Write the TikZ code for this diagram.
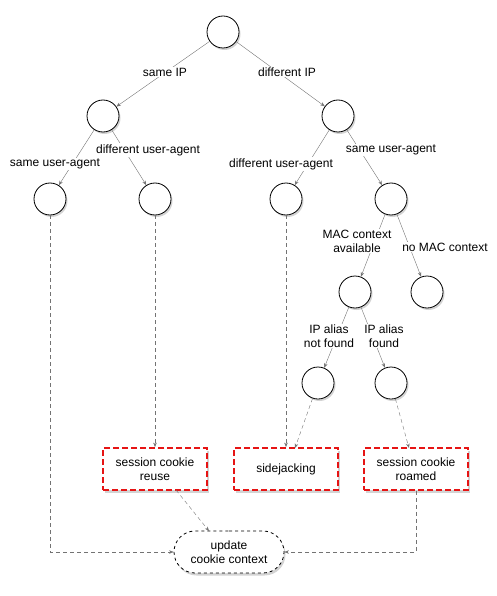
\documentclass[tikz,border=0pt]{standalone}
\usepackage{fontspec}
\setmainfont{Liberation Sans}
\usetikzlibrary{shadows,arrows.meta,shapes.misc}
\begin{document}
\begin{tikzpicture}[x=1pt,y=-1pt,
  every node/.style={font=\fontsize{12}{14}\selectfont},
  st/.style={circle,draw=black,thick,fill=white,minimum size=32pt,inner sep=0pt,
    drop shadow={shadow xshift=1.5pt,shadow yshift=-2pt,opacity=0.35}},
  res/.style={rectangle,draw={rgb,255:red,230;green,20;blue,20},line width=1.8pt,
    dash pattern=on 6pt off 3pt,fill=white,minimum width=104pt,minimum height=42pt,
    align=center,inner sep=2pt,
    drop shadow={shadow xshift=1.5pt,shadow yshift=-2.5pt,opacity=0.35}},
  upd/.style={rounded rectangle,draw=black,thick,dashed,fill=white,minimum width=114pt,
    minimum height=42pt,align=center,inner sep=2pt,
    drop shadow={shadow xshift=1.5pt,shadow yshift=-2.5pt,opacity=0.35}},
  lbl/.style={fill=white,inner sep=1pt,align=center},
  edge/.style={draw=black!55,-{Stealth[length=4.5pt,width=3.5pt]}},
  dedge/.style={draw=black!55,dash pattern=on 4pt off 3pt,-{Stealth[length=4.5pt,width=3.5pt]}}
]
\useasboundingbox (0,0) rectangle (497,596);

\node[st] (r) at (223,32) {};
\node[st] (a) at (103,116) {};
\node[st] (b) at (338,116) {};
\node[st] (a1) at (50,199) {};
\node[st] (a2) at (155,199) {};
\node[st] (b1) at (286,199) {};
\node[st] (b2) at (391,199) {};
\node[st] (c1) at (355,292) {};
\node[st] (c2) at (427,292) {};
\node[st] (d1) at (318,383) {};
\node[st] (d2) at (391,383) {};

\node[res] (reuse) at (155,469) {session cookie\\reuse};
\node[res] (side) at (286,469) {sidejacking};
\node[res] (roam) at (416,469) {session cookie\\roamed};
\node[upd] (upd) at (229,552) {update\\cookie context};

\draw[edge] (r) -- (a);
\draw[edge] (r) -- (b);
\draw[edge] (a) -- (a1);
\draw[edge] (a) -- (a2);
\draw[edge] (b) -- (b1);
\draw[edge] (b) -- (b2);
\draw[edge] (b2) -- (c1);
\draw[edge] (b2) -- (c2);
\draw[edge] (c1) -- (d1);
\draw[edge] (c1) -- (d2);

\node[lbl] at (165,72) {same IP};
\node[lbl] at (287,72) {different IP};
\node[lbl] at (148,150) {different user-agent};
\node[lbl] at (55,164) {same user-agent};
\node[lbl] at (281,164) {different user-agent};
\node[lbl] at (391,150) {same user-agent};
\node[lbl] at (357,241) {MAC context\\available};
\node[lbl] at (445,247) {no MAC context};
\node[lbl] at (329,336) {IP alias\\not found};
\node[lbl] at (384,336) {IP alias\\found};

\draw[dedge] (a2) -- (reuse);
\draw[dedge] (b1) -- (b1 |- side.north);
\coordinate (sj) at (295,448);
\draw[dedge] (d1) -- (sj);
\coordinate (rt) at (409,448);
\draw[dedge] (d2) -- (rt);
\coordinate (ut) at (209,531);
\coordinate (rb) at (176,490);
\draw[dedge] (rb) -- (ut);
\draw[dedge] (a1) |- (upd.west);
\draw[dedge] (roam.south) |- (upd.east);
\end{tikzpicture}
\end{document}
